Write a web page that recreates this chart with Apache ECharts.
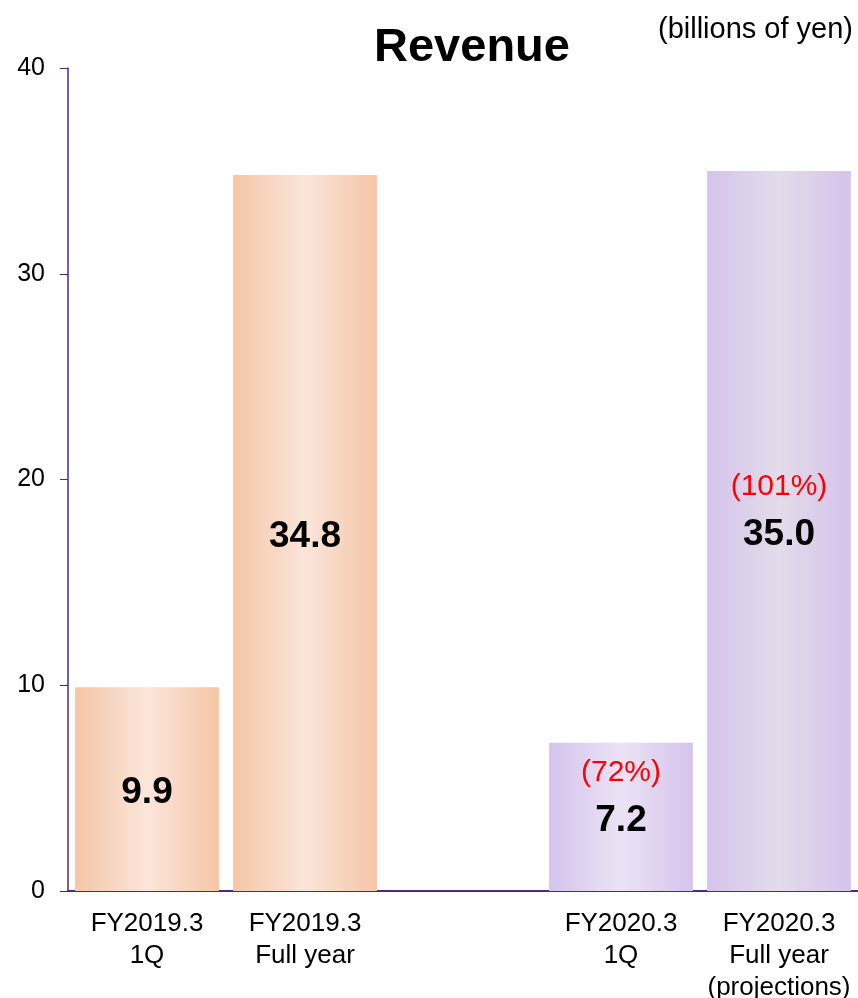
<!DOCTYPE html>
<html>
<head>
<meta charset="utf-8">
<script src="https://cdn.jsdelivr.net/npm/echarts@6/dist/echarts.min.js"></script>
<style>
html,body{margin:0;padding:0;background:#fff;}
#chart{width:858px;height:998px;}
</style>
</head>
<body>
<div id="chart"></div>
<script>
// 売上高
var categories = ['FY2019.3\n1Q', 'FY2019.3\nFull year', '', 'FY2020.3\n1Q', 'FY2020.3\nFull year\n(projections)'];
var revenue = [9.9, 34.8, '-', 7.2, 35.0];
var ratio = ['', '', '', '(72%)', '(101%)'];
var yTicks = [0, 10, 20, 30, 40];

var FONT = 'Arial, "Liberation Sans", sans-serif';

function grad(edge, mid){
	return new echarts.graphic.LinearGradient(0, 0, 1, 0, [
		{offset: 0, color: edge},
		{offset: 0.5, color: mid},
		{offset: 1, color: edge}
	]);
}
var fills = [
	grad('#f5c6a6', '#fbe5db'),
	grad('#f5c6a6', '#fbe5db'),
	null,
	grad('#d5c3ec', '#ebe3f5'),
	grad('#d5c3ec', '#e3dcea')
];

var barData = revenue.map(function(v, i){
	if (v === '-') return v;
	return {
		value: v,
		itemStyle: {color: fills[i]},
		label: {
			offset: ratio[i] ? [0, -20] : [0, 4]
		}
	};
});

var option = {
	animation: false,
	title: [{
		text: 'Revenue',
		left: 467, top: 20,
		textAlign: 'center',
		textStyle: {fontFamily: FONT, fontSize: 47, fontWeight: 'bold', color: '#000'}
	}, {
		text: '(billions of yen)',
		right: 0, top: 10,
		textStyle: {fontFamily: FONT, fontSize: 29, fontWeight: 'normal', color: '#000'}
	}],
	grid: {left: 68, right: 0, top: 68, bottom: 107, outerBoundsMode: 'none'},
	xAxis: {
		type: 'category',
		data: categories,
		axisLine: {lineStyle: {color: '#4b2a86', width: 2}},
		axisTick: {show: false},
		axisLabel: {
			interval: 0,
			margin: 17,
			fontFamily: FONT, fontSize: 26, lineHeight: 32, color: '#000'
		}
	},
	yAxis: {
		type: 'value',
		min: yTicks[0], max: yTicks[yTicks.length - 1], interval: 10,
		splitLine: {show: false},
		axisLine: {show: true, lineStyle: {color: '#4b2a86', width: 1.5}},
		axisTick: {show: true, length: 8, lineStyle: {color: '#4b2a86'}},
		axisLabel: {margin: 23, fontFamily: FONT, fontSize: 25, color: '#000'}
	},
	series: [{
		name: 'Revenue',
		type: 'bar',
		barWidth: '91%',
		data: barData,
		label: {
			show: true,
			position: 'inside',
			formatter: function(p){
				var r = ratio[p.dataIndex];
				var v = p.value.toFixed(1);
				return r ? '{r|' + r + '}\n{v|' + v + '}' : '{v|' + v + '}';
			},
			rich: {
				r: {fontFamily: FONT, fontSize: 30, color: '#ff0000', lineHeight: 48},
				v: {fontFamily: FONT, fontSize: 37, fontWeight: 'bold', color: '#000', lineHeight: 48}
			}
		}
	}]
};
echarts.init(document.getElementById('chart')).setOption(option);
</script>
</body>
</html>
